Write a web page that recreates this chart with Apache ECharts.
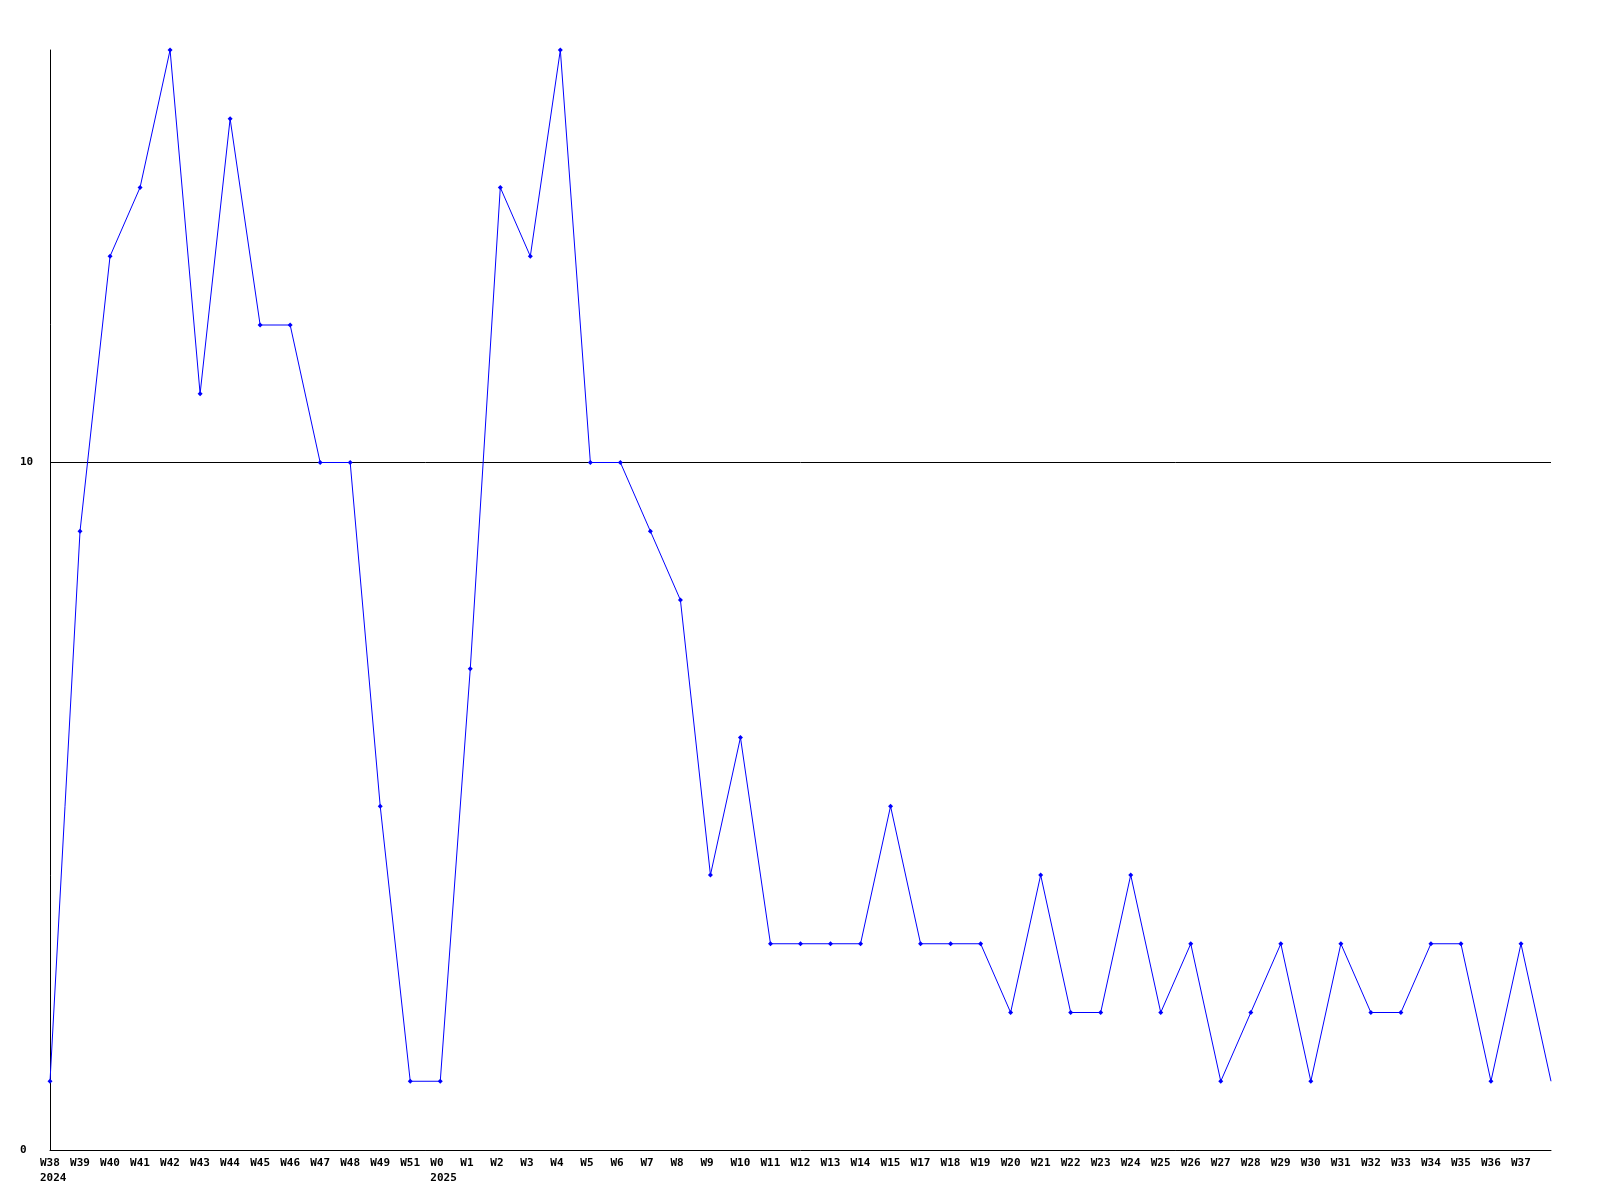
<!DOCTYPE html>
<html><head><meta charset="utf-8">
<script src="https://cdn.jsdelivr.net/npm/echarts@6/dist/echarts.min.js"></script>
<style>html,body{margin:0;padding:0;background:#fff}#c{width:1600px;height:1200px}</style>
</head><body><div id="c"></div>
<script>
const weeks = ['W38','W39','W40','W41','W42','W43','W44','W45','W46','W47','W48','W49','W51','W0',
  'W1','W2','W3','W4','W5','W6','W7','W8','W9','W10','W11','W12','W13','W14','W15',
  'W17','W18','W19','W20','W21','W22','W23','W24','W25','W26','W27','W28','W29','W30',
  'W31','W32','W33','W34','W35','W36','W37',''];
const yearLabels = {'W38':'2024','W0':'2025'};
const values = [1,9,13,14,16,11,15,12,12,10,10,5,1,1,
  7,14,13,16,10,10,9,8,4,6,3,3,3,3,5,
  3,3,3,2,4,2,2,4,2,3,1,2,3,1,
  3,2,2,3,3,1,3,1];
const yTicks = [0,10];

const data = values.map((v,i)=> i===values.length-1 ? {value:v, symbol:'none'} : v);
const chart = echarts.init(document.getElementById('c'));
const font = '"DejaVu Sans Mono", monospace';
chart.setOption({
  animation:false,
  grid:{left:50,top:50,right:49,bottom:50,containLabel:false},
  xAxis:{type:'category',data:weeks,boundaryGap:false,
    axisLine:{lineStyle:{color:'#000',width:1}},axisTick:{show:false},
    axisLabel:{interval:0,align:'left',margin:6,padding:[0,0,0,-10],
      fontFamily:font,fontWeight:'bold',fontSize:11,color:'#000',lineHeight:15,
      formatter:(v)=> yearLabels[v] ? v+'\n'+yearLabels[v] : v},
    splitLine:{show:false}},
  yAxis:{type:'value',min:0,max:16,interval:10,
    axisLine:{show:true,lineStyle:{color:'#000',width:1}},axisTick:{show:false},
    axisLabel:{align:'left',margin:30,fontFamily:font,fontWeight:'bold',fontSize:11,color:'#000',
      formatter:(v)=> yTicks.includes(v) ? String(v) : ''},
    splitLine:{show:true,showMinLine:false,showMaxLine:false,lineStyle:{color:'#000',width:1}}},
  series:[{type:'line',data:data,symbol:'diamond',symbolSize:5,
    lineStyle:{color:'#0000ff',width:1},itemStyle:{color:'#0000ff'}}]
});
</script></body></html>
